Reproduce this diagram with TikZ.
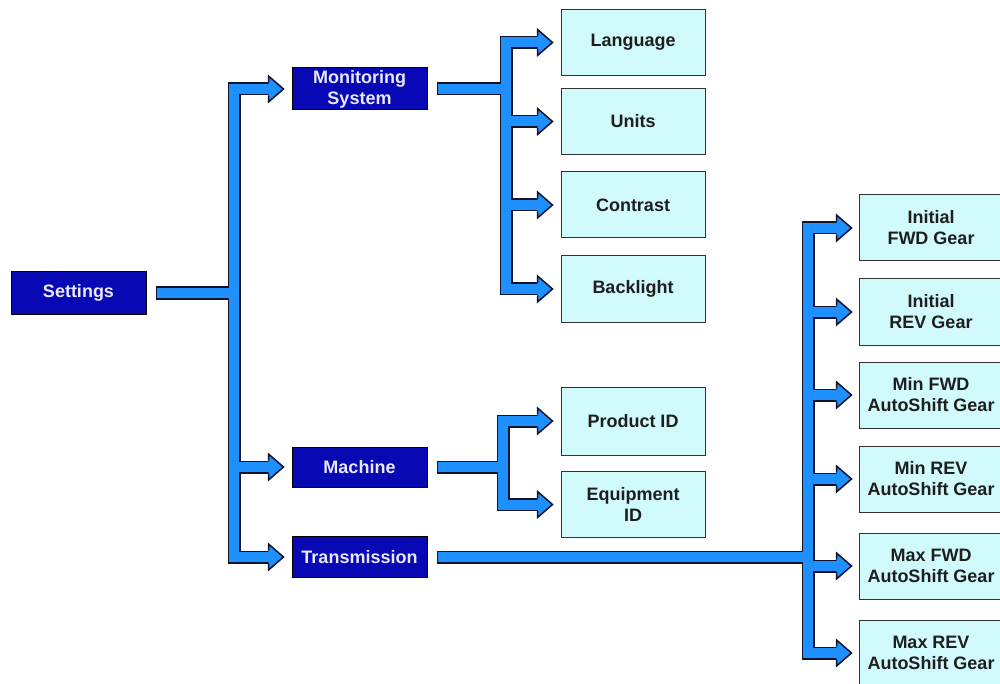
\documentclass[tikz,border=0pt]{standalone}
\usepackage{fontspec}
\setmainfont{Liberation Sans}
\usetikzlibrary{calc}
\definecolor{darkbox}{RGB}{8,8,180}
\definecolor{lightbox}{RGB}{208,250,252}
\definecolor{arrblue}{RGB}{30,144,255}
\definecolor{darktext}{RGB}{232,232,255}
\definecolor{lighttext}{RGB}{30,30,30}
\definecolor{edge}{RGB}{20,20,40}
\newcommand\arrhd[2]{%
  \fill[headfill] ([xshift=-#2pt]#1.west) -- ++(-15,-13) -- ++(0,26) -- cycle;
  \draw[headline] ([xshift=-#2pt]#1.west) ++(-15,-6.5) -- ++(0,-6.5) -- ([xshift=-#2pt]#1.west) -- ++(-15,13) -- ++(0,-6.5);
}
\begin{document}
\begin{tikzpicture}[x=1pt,y=-1pt,
  boxfont/.style={font=\fontsize{18}{21}\selectfont\bfseries},
  dbox/.style={boxfont,draw=black,line width=1pt,fill=darkbox,text=darktext,align=center,minimum width=135pt,minimum height=42pt,inner sep=0pt},
  lbox/.style={boxfont,draw=black!80,line width=1pt,fill=lightbox,text=lighttext,align=center,minimum width=144pt,minimum height=66pt,inner sep=0pt},
  barout/.style={draw=edge,line width=13pt,line join=miter},
  barin/.style={draw=arrblue,line width=10pt,line join=miter},
  headfill/.style={fill=arrblue},
  headline/.style={draw=edge,line width=1.5pt,line join=miter}
]
\useasboundingbox[fill=white] (0,0) rectangle (1000,684);

% dark nodes
\node[dbox] (set) at (78.5,293) {Settings};
\node[dbox] (mon) at (359.5,89) {Monitoring\\System};
\node[dbox,minimum height=40pt] (mac) at (359.5,467) {Machine};
\node[dbox,minimum height=41pt] (tra) at (359.5,557) {Transmission};

% light nodes
\node[lbox] (lang) at (633,42.5) {Language};
\node[lbox] (unit) at (633,121.5) {Units};
\node[lbox] (cont) at (633,205) {Contrast};
\node[lbox] (back) at (633,289) {Backlight};
\node[lbox,minimum height=68pt] (prod) at (633,421) {Product ID};
\node[lbox] (equi) at (633,504.5) {Equipment\\ID};

\node[lbox] (ifwd) at (931,228) {Initial\\FWD Gear};
\node[lbox] (irev) at (931,312) {Initial\\REV Gear};
\node[lbox] (nfwd) at (931,395) {Min FWD\\AutoShift Gear};
\node[lbox] (nrev) at (931,479) {Min REV\\AutoShift Gear};
\node[lbox] (xfwd) at (931,566) {Max FWD\\AutoShift Gear};
\node[lbox] (xrev) at (931,653) {Max REV\\AutoShift Gear};

\coordinate (j1) at (234,0);
\coordinate (j2) at (506,0);
\coordinate (j3) at (503,0);
\coordinate (j4) at (808,0);

% outer (black) bars
\draw[barout] ([xshift=9pt]set.east) -- (j1 |- set.east);
\draw[barout] ([xshift=-23pt]mon.west) -| (j1 |- tra.west) -- ([xshift=-23pt]tra.west);
\draw[barout] (j1 |- mac.west) -- ([xshift=-23pt]mac.west);

\draw[barout] ([xshift=9pt]mon.east) -- (j2 |- mon.east);
\draw[barout] ([xshift=-23pt]lang.west) -| (j2 |- back.west) -- ([xshift=-23pt]back.west);
\draw[barout] (j2 |- unit.west) -- ([xshift=-23pt]unit.west);
\draw[barout] (j2 |- cont.west) -- ([xshift=-23pt]cont.west);

\draw[barout] ([xshift=9pt]mac.east) -- (j3 |- mac.east);
\draw[barout] ([xshift=-23pt]prod.west) -| (j3 |- equi.west) -- ([xshift=-23pt]equi.west);

\draw[barout] ([xshift=9pt]tra.east) -- (j4 |- tra.east);
\draw[barout] ([xshift=-22pt]ifwd.west) -| (j4 |- xrev.west) -- ([xshift=-22pt]xrev.west);
\draw[barout] (j4 |- irev.west) -- ([xshift=-22pt]irev.west);
\draw[barout] (j4 |- nfwd.west) -- ([xshift=-22pt]nfwd.west);
\draw[barout] (j4 |- nrev.west) -- ([xshift=-22pt]nrev.west);
\draw[barout] (j4 |- xfwd.west) -- ([xshift=-22pt]xfwd.west);

% arrow heads
\arrhd{mon}{8}\arrhd{mac}{8}\arrhd{tra}{8}
\arrhd{lang}{8}\arrhd{unit}{8}\arrhd{cont}{8}\arrhd{back}{8}
\arrhd{prod}{8}\arrhd{equi}{8}
\arrhd{ifwd}{7}\arrhd{irev}{7}\arrhd{nfwd}{7}\arrhd{nrev}{7}\arrhd{xfwd}{7}\arrhd{xrev}{7}

% inner (blue) bars
\draw[barin] ([xshift=10.5pt]set.east) -- (j1 |- set.east);
\draw[barin] ([xshift=-22pt]mon.west) -| (j1 |- tra.west) -- ([xshift=-22pt]tra.west);
\draw[barin] (j1 |- mac.west) -- ([xshift=-22pt]mac.west);

\draw[barin] ([xshift=10.5pt]mon.east) -- (j2 |- mon.east);
\draw[barin] ([xshift=-22pt]lang.west) -| (j2 |- back.west) -- ([xshift=-22pt]back.west);
\draw[barin] (j2 |- unit.west) -- ([xshift=-22pt]unit.west);
\draw[barin] (j2 |- cont.west) -- ([xshift=-22pt]cont.west);

\draw[barin] ([xshift=10.5pt]mac.east) -- (j3 |- mac.east);
\draw[barin] ([xshift=-22pt]prod.west) -| (j3 |- equi.west) -- ([xshift=-22pt]equi.west);

\draw[barin] ([xshift=10.5pt]tra.east) -- (j4 |- tra.east);
\draw[barin] ([xshift=-21pt]ifwd.west) -| (j4 |- xrev.west) -- ([xshift=-21pt]xrev.west);
\draw[barin] (j4 |- irev.west) -- ([xshift=-21pt]irev.west);
\draw[barin] (j4 |- nfwd.west) -- ([xshift=-21pt]nfwd.west);
\draw[barin] (j4 |- nrev.west) -- ([xshift=-21pt]nrev.west);
\draw[barin] (j4 |- xfwd.west) -- ([xshift=-21pt]xfwd.west);
\end{tikzpicture}
\end{document}
